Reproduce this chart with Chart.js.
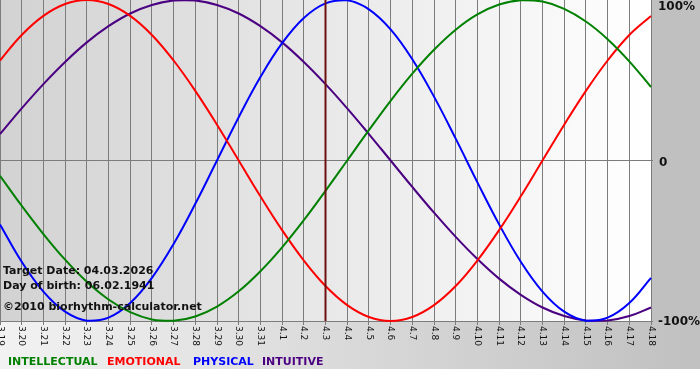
<!DOCTYPE html>
<html><head><meta charset="utf-8">
<script src="https://cdn.jsdelivr.net/npm/chart.js@4/dist/chart.umd.min.js"></script>
<style>html,body{margin:0;padding:0;background:#fff;}</style>
</head><body>
<canvas id="c" width="700" height="380"></canvas>
<script>
const dayLabels = ['3.19','3.20','3.21','3.22','3.23','3.24','3.25','3.26','3.27','3.28','3.29','3.30','3.31',
  '4.1','4.2','4.3','4.4','4.5','4.6','4.7','4.8','4.9','4.10','4.11','4.12','4.13','4.14','4.15','4.16','4.17','4.18'];
const intellectual = [-9.5,-28.2,-45.8,-61.8,-75.6,-86.6,-94.5,-99.0,-99.9,-97.2,-91.0,-81.5,-69.0,-54.1,-37.2,-18.9,0,18.9,37.2,54.1,69.0,81.5,91.0,97.2,99.9,99.0,94.5,86.6,75.6,61.8,45.8];
const emotional = [62.3,78.2,90.1,97.5,100,97.5,90.1,78.2,62.3,43.4,22.3,0,-22.3,-43.4,-62.3,-78.2,-90.1,-97.5,-100,-97.5,-90.1,-78.2,-62.3,-43.4,-22.3,0,22.3,43.4,62.3,78.2,90.1];
const physical = [-39.8,-63.1,-81.7,-94.2,-99.8,-97.9,-88.8,-73.1,-52.0,-27.0,0,27.0,52.0,73.1,88.8,97.9,99.8,94.2,81.7,63.1,39.8,13.6,-13.6,-39.8,-63.1,-81.7,-94.2,-99.8,-97.9,-88.8,-73.1];
const intuitive = [16.5,32.5,47.6,61.4,73.6,83.7,91.6,96.9,99.7,99.7,96.9,91.6,83.7,73.6,61.4,47.6,32.5,16.5,0,-16.5,-32.5,-47.6,-61.4,-73.6,-83.7,-91.6,-96.9,-99.7,-99.7,-96.9,-91.6];
const yTickValues = [100, 0, -100];
const yTickLabels = ['100%', '0', '-100%'];
const targetLabel = '4.3';
const infoLines = ['Target Date: 04.03.2026', 'Day of birth: 06.02.1941', '\u00A92010 biorhythm-calculator.net'];
const seriesNames = ['INTELLECTUAL', 'EMOTIONAL', 'PHYSICAL', 'INTUITIVE'];
const seriesColors = ['#008000', '#ff0000', '#0000ff', '#4b0082'];

const bgPlugin = {
  id: 'bg',
  beforeDraw(chart) {
    const {ctx, chartArea: a} = chart;
    ctx.save();
    ctx.fillStyle = '#ffffff';
    ctx.fillRect(0, 0, chart.width, chart.height);
    let g = ctx.createLinearGradient(0, 0, chart.width, 0);
    g.addColorStop(0, '#f2f2f2');
    g.addColorStop(1, '#c0c0c0');
    ctx.fillStyle = g;
    ctx.fillRect(0, 0, chart.width, 369);
    ctx.fillStyle = '#c0c0c0';
    ctx.fillRect(a.right, 0, chart.width - a.right, a.bottom);
    g = ctx.createLinearGradient(a.left, 0, a.right, 0);
    g.addColorStop(0, '#d2d2d2');
    g.addColorStop(1, '#ffffff');
    ctx.fillStyle = g;
    ctx.fillRect(a.left, a.top, a.right - a.left, a.bottom - a.top);
    ctx.restore();
  }
};

const overlayPlugin = {
  id: 'overlay',
  afterDatasetsDraw(chart) {
    const {ctx, chartArea: a, scales: {x, y}} = chart;
    ctx.save();
    const tx = x.getPixelForValue(dayLabels.indexOf(targetLabel));
    ctx.strokeStyle = '#6e1010';
    ctx.lineWidth = 2;
    ctx.beginPath();
    ctx.moveTo(tx, a.top);
    ctx.lineTo(tx, a.bottom);
    ctx.stroke();
    ctx.fillStyle = '#111111';
    ctx.font = 'bold 11px "DejaVu Sans"';
    ctx.textBaseline = 'middle';
    ctx.textAlign = 'left';
    ctx.fillText(infoLines[0], 3, 271);
    ctx.fillText(infoLines[1], 3, 286);
    ctx.fillText(infoLines[2], 3, 307);
    ctx.font = 'bold 12px "DejaVu Sans"';
    yTickValues.forEach((v, i) => {
      const py = y.getPixelForValue(v);
      const off = v === 100 ? 7 : (v === 0 ? 2 : 1);
      ctx.fillText(yTickLabels[i], v === 0 ? 659 : 658, py + off);
    });
    ctx.font = '9px "DejaVu Sans"';
    dayLabels.forEach((lab, i) => {
      const px = x.getPixelForValue(i);
      ctx.save();
      ctx.translate(px, a.bottom + 5);
      ctx.rotate(Math.PI / 2);
      ctx.textAlign = 'left';
      ctx.textBaseline = 'middle';
      ctx.fillText(lab, 0, 0);
      ctx.restore();
    });
    ctx.font = 'bold 11px "DejaVu Sans"';
    ctx.textBaseline = 'middle';
    const legendX = [8, 107, 193, 262];
    seriesNames.forEach((n, i) => {
      ctx.fillStyle = seriesColors[i];
      ctx.fillText(n, legendX[i], 362);
    });
    ctx.restore();
  }
};

function ds(label, data, color) {
  return {label, data, borderColor: color, borderWidth: 2, pointRadius: 0, tension: 0.4, fill: false, clip: false};
}

new Chart(document.getElementById('c'), {
  type: 'line',
  data: {
    labels: dayLabels,
    datasets: [
      ds(seriesNames[0], intellectual, seriesColors[0]),
      ds(seriesNames[1], emotional, seriesColors[1]),
      ds(seriesNames[2], physical, seriesColors[2]),
      ds(seriesNames[3], intuitive, seriesColors[3])
    ]
  },
  options: {
    responsive: false,
    animation: false,
    devicePixelRatio: 1,
    layout: {padding: 0},
    plugins: {legend: {display: false}, tooltip: {enabled: false}},
    scales: {
      x: {
        type: 'category',
        offset: false,
        grid: {color: '#7c7c7c', lineWidth: 1, drawTicks: true, tickLength: 4},
        border: {display: false},
        ticks: {display: false, autoSkip: false},
        afterFit(s) { s.height = 59; }
      },
      y: {
        position: 'right',
        min: -100, max: 100,
        grid: {color: c => (c.tick && c.tick.value === 100) ? 'rgba(0,0,0,0)' : '#7c7c7c', lineWidth: 1, drawTicks: true, tickLength: 2},
        border: {display: false},
        ticks: {display: false, stepSize: 100},
        afterFit(s) { s.width = 49; }
      }
    }
  },
  plugins: [bgPlugin, overlayPlugin]
});
</script>
</body></html>
